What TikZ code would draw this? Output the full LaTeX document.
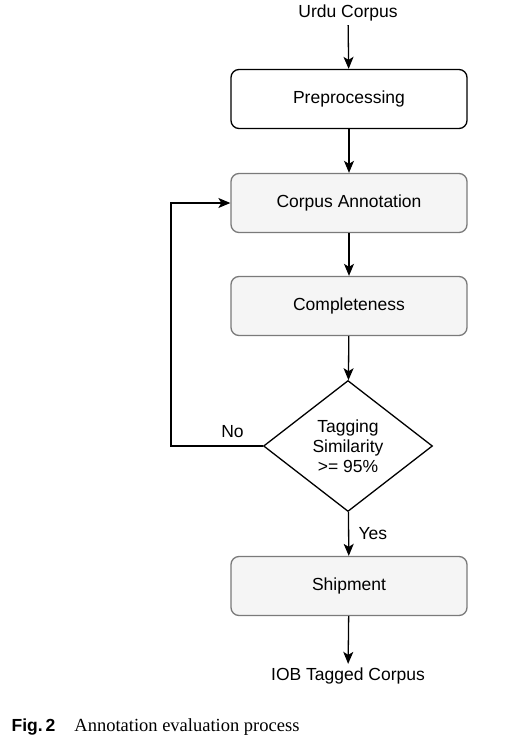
\documentclass[tikz,border=0pt]{standalone}
\usepackage{fontspec}
\setmainfont{Liberation Sans}
\newfontfamily\capserif{Liberation Serif}
\usetikzlibrary{arrows.meta,shapes.geometric,positioning}
\definecolor{boxfill}{HTML}{F5F5F5}
\definecolor{boxline}{HTML}{7A7A7A}
\tikzset{
  stagebox/.style={draw=boxline,fill=boxfill,rounded corners=8pt,line width=1.3pt,
                   minimum width=236pt,minimum height=59pt},
  checkbox/.style={draw,diamond,line width=1.3pt,minimum width=169pt,
                   minimum height=131pt,inner sep=0pt,align=center}
}
\begin{document}
\begin{tikzpicture}[x=1pt,y=-1pt,-{Stealth[length=12pt,width=10pt,inset=3pt]},line width=1.3pt,
                    font=\fontsize{17.5}{20}\selectfont]
\useasboundingbox (0,0) rectangle (531,742);
\node (inp) at (348,13) {Urdu Corpus};
\node[stagebox,draw=black,fill=white] (pre) at (349,99) {Preprocessing};
\node[stagebox] (ann) at (349,203) {Corpus Annotation};
\node[stagebox] (com) at (349,306) {Completeness};
\node[checkbox] (sim) at (348,446) {Tagging\\Similarity\\>= 95\%};
\node[stagebox] (shp) at (349,586) {Shipment};
\node (out) at (348,676) {IOB Tagged Corpus};
\draw (inp) -- (pre); \draw (pre) -- (ann); \draw (ann) -- (com);
\draw (com) -- (sim); \draw (shp) -- (out);
\draw (sim) -- node[right=6pt] {Yes} (shp);
\draw (sim.west) -- node[above=4pt,pos=0.33] {No} ++(-92,0) |- (ann.west);
\node[anchor=west,inner sep=0pt] (cap) at (11,727)
  {\fontsize{17.5}{20}\selectfont\textbf{Fig.\,2}\hspace{19pt}\capserif\fontsize{18.5}{20}\selectfont Annotation evaluation process};
\end{tikzpicture}
\end{document}
